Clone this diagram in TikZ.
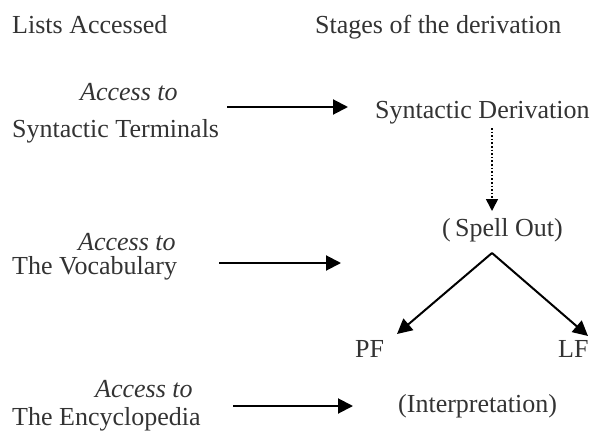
\documentclass[tikz,border=0pt]{standalone}
\usepackage{fontspec}
\setmainfont{Liberation Serif}
\usetikzlibrary{arrows.meta}
\begin{document}
\begin{tikzpicture}[x=1pt,y=-1pt,
  lbl/.style={inner sep=0pt, anchor=base west, font=\fontsize{26}{30}\selectfont, text=black!80},
  acc/.style={lbl, font=\fontsize{26}{30}\selectfont\itshape},
  arr/.style={line width=2pt, -{Triangle[length=15pt,width=15pt]}},
  dotarr/.style={line width=1.6pt, dotted, -{Triangle[length=12pt,width=12pt]}}]
\useasboundingbox (0,0) rectangle (596,433);
% headers
\node[lbl] (h1) at (12,34) {Lists Accessed};
\node[lbl] (h2) at (315,34) {Stages of the derivation};
% left column
\node[acc] (a1) at (80,100) {Access to};
\node[lbl] (l1) at (12,137) {Syntactic Terminals};
\node[acc] (a2) at (78,250) {Access to};
\node[lbl] (l2) at (12,274) {The Vocabulary};
\node[acc] (a3) at (95,397) {Access to};
\node[lbl] (l3) at (12,425) {The Encyclopedia};
% right column
\node[lbl] (sd) at (375,118) {Syntactic Derivation};
\node[lbl] (so) at (442,236) {(\,Spell Out)};
\node[lbl] (pf) at (355,357) {PF};
\node[lbl] (lf) at (558,357) {LF};
\node[lbl] (int) at (398,412) {(Interpretation)};
% arrow ends
\coordinate (e1s) at (227,107);
\coordinate (e1e) at (348,107);
\coordinate (e2s) at (219,263);
\coordinate (e2e) at (341,263);
\coordinate (e3s) at (233,406);
\coordinate (e3e) at (353,406);
\coordinate (ds) at (492,128);
\coordinate (de) at (492,211);
\coordinate (apex) at (492,253);
\coordinate (pft) at (397,334);
\coordinate (lft) at (588,336);
\draw[arr] (e1s) -- (e1e);
\draw[arr] (e2s) -- (e2e);
\draw[arr] (e3s) -- (e3e);
\draw[dotarr] (ds) -- (de);
\draw[arr] (apex) -- (pft);
\draw[arr] (apex) -- (lft);
\end{tikzpicture}
\end{document}
